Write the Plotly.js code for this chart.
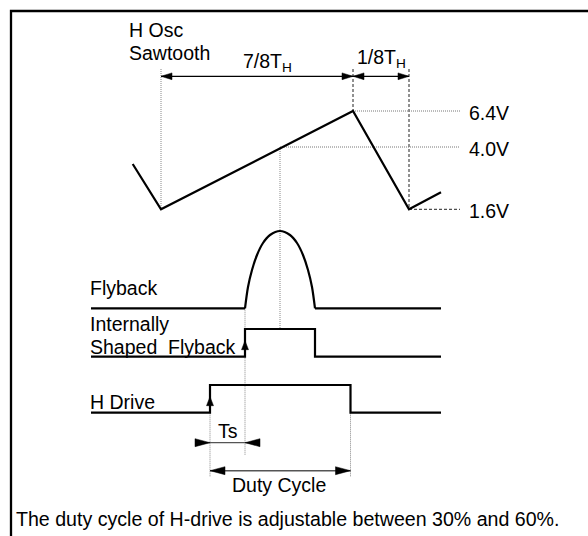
<!DOCTYPE html>
<html>
<head>
<meta charset="utf-8">
<script src="https://cdn.plot.ly/plotly-3.0.1.min.js"></script>
<style>html,body{margin:0;padding:0;background:#fff;}#chart{width:588px;height:536px;}</style>
</head>
<body>
<div id="chart"></div>
<script>
// ---- Waveform data (diagram units: x = time position, y = vertical drawing position, down is larger) ----
const sawX = [132.7, 161, 353, 409, 441];
const sawY = [164, 209.3, 111, 209.3, 192.3];

// flyback: flat baseline, pulse, flat baseline
const flyBaseY = 308.3;
const flyLeftX = [91, 245];
const flyRightX = [315, 441];
const flyPulseX = [245, 248, 252, 257, 263, 270, 280, 290, 297, 303, 308, 312, 315];
const flyPulseY = [308.3, 287, 270, 255, 243, 235, 231, 235, 243, 255, 270, 287, 308.3];

const shapedX = [91, 245, 245, 315, 315, 441];
const shapedY = [356.7, 356.7, 329, 329, 356.7, 356.7];

const driveX = [91, 210, 210, 350.5, 350.5, 441];
const driveY = [412.7, 412.7, 385, 385, 412.7, 412.7];

// voltage levels
const levelLabels = ["6.4V", "4.0V", "1.6V"];
const levelY = [111, 147, 209.3];
const levelStartX = [353, 280, 409];
const levelEndX = 460;

// vertical reference lines [x, y1, y2]
const refX  = [161, 353, 409, 280, 245, 210, 350.5];
const refY1 = [69, 69, 69, 147, 308.3, 412.7, 412.7];
const refY2 = [209.3, 111, 209.3, 329, 455, 477, 477];
const refDashed = [false, true, true, false, false, false, false];

// dimension arrows
const periodStart = [161, 353];
const periodEnd   = [353, 409];
const periodY = 76.3;
const periodLabels = ["7/8T<sub>H</sub>", "1/8T<sub>H</sub>"];
const periodLabelX = [241.5, 355.5];
const periodLabelY = [62, 58];

const tsStart = 210, tsEnd = 245, tsY = 442.7;
const dutyStart = 210, dutyEnd = 350.5, dutyY = 470.7;

// edge arrows (rising edges)
const edgeX = [245, 210];
const edgeTipY = [340.7, 396.7];

// labels
const sigLabels = ["H Osc", "Sawtooth", "Flyback", "Internally", "Shaped\u00a0\u00a0Flyback", "H Drive"];
const sigLabelX = [127.5, 127.5, 89, 89, 89, 89];
const sigLabelY = [29.5, 52.5, 288.3, 324, 346.7, 401.7];
const caption = "The duty cycle of H-drive is adjustable between 30% and 60%.";

// ---- build ----
const FONT = "Liberation Sans, Arial, Helvetica, sans-serif";
const traces = [];

// frame
traces.push({x:[588, 11, 11], y:[11, 11, 536], mode:'lines', line:{color:'#000', width:2.3}, hoverinfo:'skip'});

// reference lines
refX.forEach((x, i) => {
  traces.push({x:[x, x], y:[refY1[i], refY2[i]], mode:'lines',
    line: refDashed[i] ? {color:'#222', width:1, dash:'3px,2px'} : {color:'#888', width:1, dash:'1px,1px'},
    hoverinfo:'skip'});
});
levelY.forEach((y, i) => {
  traces.push({x:[levelStartX[i], levelEndX], y:[y, y], mode:'lines',
    line: i === 2 ? {color:'#222', width:1, dash:'3px,2px'} : {color:'#777', width:1, dash:'1px,1px'},
    hoverinfo:'skip'});
});

// waveforms
const wave = {color:'#000', width:2.2};
traces.push({x:sawX, y:sawY, mode:'lines', line:wave, hoverinfo:'skip'});
traces.push({x:flyLeftX, y:[flyBaseY, flyBaseY], mode:'lines', line:wave, hoverinfo:'skip'});
traces.push({x:flyRightX, y:[flyBaseY, flyBaseY], mode:'lines', line:wave, hoverinfo:'skip'});
traces.push({x:flyPulseX, y:flyPulseY, mode:'lines', line:Object.assign({shape:'spline', smoothing:0.8}, wave), hoverinfo:'skip'});
traces.push({x:shapedX, y:shapedY, mode:'lines', line:wave, hoverinfo:'skip'});
traces.push({x:driveX, y:driveY, mode:'lines', line:wave, hoverinfo:'skip'});

// dimension lines
for (let i = 0; i < periodStart.length; i++) {
  traces.push({x:[periodStart[i], periodEnd[i]], y:[periodY, periodY], mode:'lines', line:{color:'#000', width:1.3}, hoverinfo:'skip'});
}
traces.push({x:[tsStart - 15, tsEnd + 15], y:[tsY, tsY], mode:'lines', line:{color:'#555', width:1.3}, hoverinfo:'skip'});
traces.push({x:[dutyStart, dutyEnd], y:[dutyY, dutyY], mode:'lines', line:{color:'#555', width:1.6}, hoverinfo:'skip'});

// arrowheads as filled triangles
const triX = [], triY = [];
function head(tx, ty, dx, dy, len, half) {
  const bx = tx - dx * len, by = ty - dy * len;
  const px = -dy * half, py = dx * half;
  triX.push(tx, bx + px, bx - px, tx, null);
  triY.push(ty, by + py, by - py, ty, null);
}
for (let i = 0; i < periodStart.length; i++) {
  head(periodStart[i], periodY, -1, 0, 11, 3.4);
  head(periodEnd[i], periodY, 1, 0, 11, 3.4);
}
head(tsStart, tsY, 1, 0, 15, 4);
head(tsEnd, tsY, -1, 0, 15, 4);
head(dutyStart, dutyY, -1, 0, 15, 4);
head(dutyEnd, dutyY, 1, 0, 15, 4);
edgeX.forEach((x, i) => head(x, edgeTipY[i], 0, -1, 9, 3.5));
traces.push({x:triX, y:triY, mode:'lines', fill:'toself', fillcolor:'#000', line:{color:'#000', width:0.5}, hoverinfo:'skip'});

// annotations
const ann = [];
const t = (text, x, y, xa, size) => ann.push({text, x, y, xref:'x', yref:'y', xanchor:xa || 'left', yanchor:'middle',
  showarrow:false, borderpad:0, font:{family:FONT, size:size || 19.5, color:'#000'}});
sigLabels.forEach((s, i) => t(s, sigLabelX[i], sigLabelY[i]));
periodLabels.forEach((s, i) => t(s, periodLabelX[i], periodLabelY[i]));
levelLabels.forEach((s, i) => t(s, 468, levelY[i] + 1.5));
t("Ts", (tsStart + tsEnd) / 2, 431, 'center');
t("Duty Cycle", 279, 485, 'center');
t(caption, 14.5, 519, 'left', 19.6);

const layout = {
  width:588, height:536, margin:{l:0, r:0, t:0, b:0},
  paper_bgcolor:'#fff', plot_bgcolor:'#fff', showlegend:false,
  xaxis:{range:[0, 588], visible:false, fixedrange:true},
  yaxis:{range:[536, 0], visible:false, fixedrange:true},
  annotations: ann
};
Plotly.newPlot('chart', traces, layout, {displayModeBar:false, staticPlot:true});
</script>
</body>
</html>
